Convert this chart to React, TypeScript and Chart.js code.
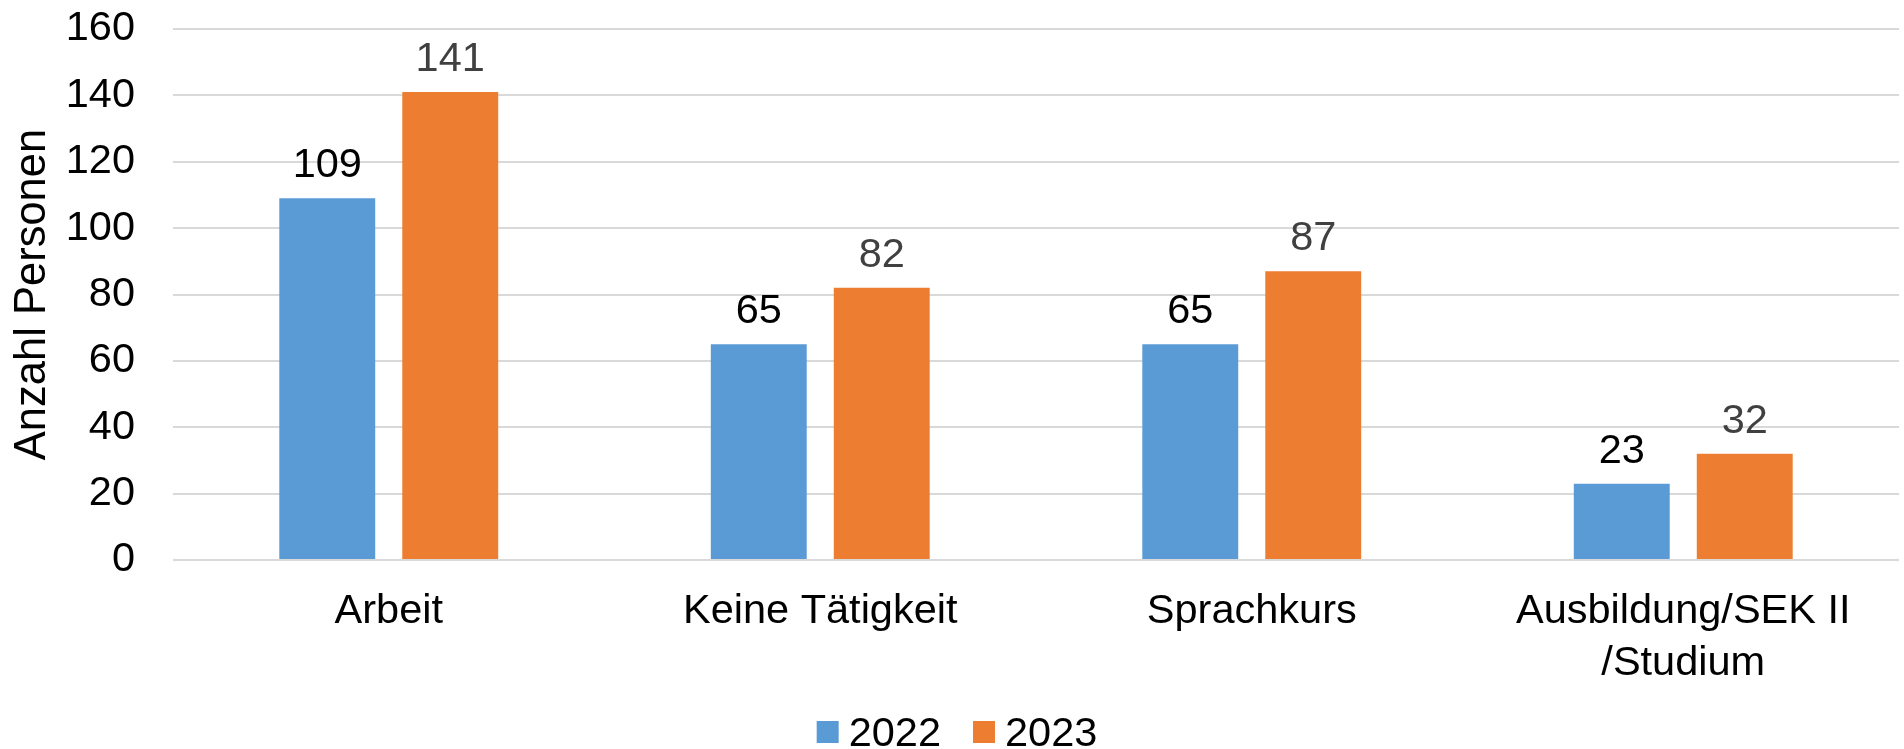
import React, { useEffect, useRef } from "react";
import { Chart, registerables } from "chart.js";

Chart.register(...registerables);

const categories: (string | string[])[] = [
  "Arbeit",
  "Keine Tätigkeit",
  "Sprachkurs",
  ["Ausbildung/SEK II", "/Studium"],
];
const values2022 = [109, 65, 65, 23];
const values2023 = [141, 82, 87, 32];
const seriesNames = ["2022", "2023"];
const yTicks = [0, 20, 40, 60, 80, 100, 120, 140, 160];

const BLUE = "#5B9BD5";
const ORANGE = "#ED7D31";
const FONT = "'Liberation Sans', Arial, sans-serif";
const FS = 41.5;

const dataLabels = {
  id: "dataLabels",
  afterDatasetsDraw(chart: any) {
    const ctx = chart.ctx;
    ctx.save();
    ctx.font = `${FS}px ${FONT}`;
    ctx.textAlign = "center";
    ctx.textBaseline = "alphabetic";
    chart.data.datasets.forEach((ds: any, i: number) => {
      const meta = chart.getDatasetMeta(i);
      ctx.fillStyle = i === 0 ? "#000000" : "#404040";
      meta.data.forEach((el: any, j: number) => {
        ctx.fillText(String(ds.data[j]), el.x, el.y - 21);
      });
    });
    ctx.restore();
  },
};

const customLegend = {
  id: "customLegend",
  afterDraw(chart: any) {
    const ctx = chart.ctx;
    ctx.save();
    ctx.font = `${FS}px ${FONT}`;
    ctx.textBaseline = "alphabetic";
    ctx.textAlign = "left";
    const box = 22;
    const gapText = 10;
    const gapItem = 32;
    const items = chart.data.datasets.map((ds: any) => ({
      text: ds.label,
      color: ds.backgroundColor,
      w: ctx.measureText(ds.label).width,
    }));
    const total =
      items.reduce((s: number, it: any) => s + box + gapText + it.w, 0) +
      gapItem * (items.length - 1);
    let x = chart.width / 2 + 5 - total / 2;
    const baseline = 746;
    items.forEach((it: any) => {
      ctx.fillStyle = it.color;
      ctx.fillRect(x, 721, box, box);
      x += box + gapText;
      ctx.fillStyle = "#000000";
      ctx.fillText(it.text, x, baseline);
      x += it.w + gapItem;
    });
    ctx.restore();
  },
};

export default function App() {
  const ref = useRef<HTMLCanvasElement | null>(null);

  useEffect(() => {
    document.body.style.margin = "0";
    const canvas = ref.current;
    if (!canvas) return;
    const chart = new Chart(canvas, {
      type: "bar",
      data: {
        labels: categories,
        datasets: [
          {
            label: seriesNames[0],
            data: values2022,
            backgroundColor: BLUE,
            barPercentage: 0.78,
            categoryPercentage: 0.57,
          },
          {
            label: seriesNames[1],
            data: values2023,
            backgroundColor: ORANGE,
            barPercentage: 0.78,
            categoryPercentage: 0.57,
          },
        ],
      },
      options: {
        animation: false,
        responsive: false,
        maintainAspectRatio: false,
        layout: { padding: { top: 29, right: 5, bottom: 0, left: 0 } },
        plugins: {
          legend: { display: false },
          tooltip: { enabled: false },
        },
        scales: {
          x: {
            grid: { display: false, drawTicks: false },
            border: { display: false },
            ticks: {
              color: "#000000",
              padding: 25,
              maxRotation: 0,
              autoSkip: false,
              font: { family: FONT, size: FS, lineHeight: 1.27 },
            },
            afterFit(scale: any) {
              scale.height = 189;
            },
          },
          y: {
            min: 0,
            max: 160,
            afterBuildTicks(scale: any) {
              scale.ticks = yTicks.map((v) => ({ value: v }));
            },
            grid: { color: "#D9D9D9", lineWidth: 2, drawTicks: false },
            border: { display: false },
            ticks: {
              color: "#000000",
              padding: 38,
              font: { family: FONT, size: FS },
            },
            title: {
              display: true,
              text: "Anzahl Personen",
              color: "#000000",
              font: { family: FONT, size: 43.5, lineHeight: 1.2 },
              padding: { top: 7, bottom: 0 },
            },
            afterFit(scale: any) {
              scale.width = 173;
              scale.paddingTop = 0;
              scale.paddingBottom = 0;
            },
          },
        },
      },
      plugins: [dataLabels, customLegend],
    });
    return () => chart.destroy();
  }, []);

  return (
    <div style={{ width: 1904, height: 749 }}>
      <canvas ref={ref} width={1904} height={749} style={{ display: "block" }} />
    </div>
  );
}
